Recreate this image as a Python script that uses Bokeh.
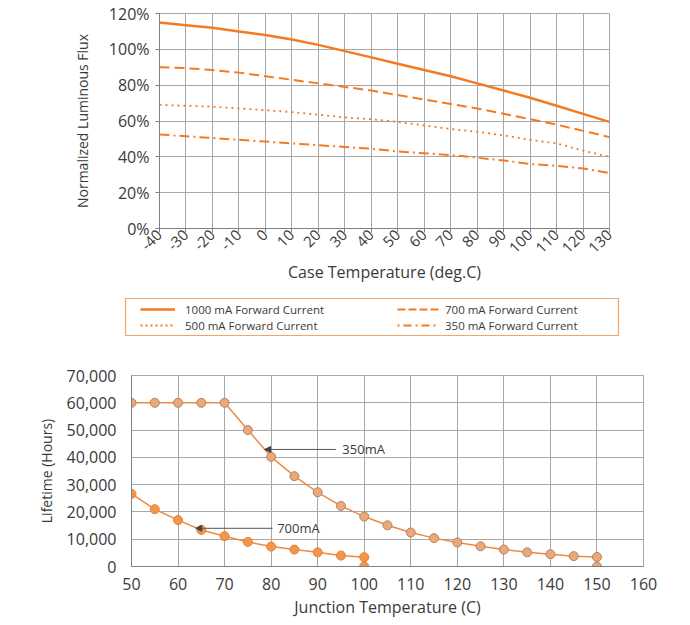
import math
from bokeh.plotting import figure
from bokeh.models import (Range1d, FixedTicker, PrintfTickFormatter, NumeralTickFormatter,
                          Legend, LegendItem, Label, Arrow, NormalHead)
from bokeh.layouts import column
from bokeh.embed import file_html
from bokeh.resources import INLINE

# ---------------- data ----------------
case_temp = [-40, -30, -20, -10, 0, 10, 20, 30, 40, 50, 60, 70, 80, 90, 100, 110, 120, 130]
flux_1000 = [115, 113.5, 112, 110, 108, 105.5, 102.5, 99, 95.5, 92, 88.5, 85, 81, 77, 73, 68.5, 64, 59.5]
flux_700 = [90, 89.5, 88.5, 87, 85, 83, 81, 79, 77, 74.5, 72, 69.5, 67, 64, 61, 58, 54.5, 51]
flux_500 = [69, 68.5, 68, 67, 66, 65, 63.5, 62, 61, 59.5, 57.5, 55.5, 54, 52, 49.5, 47.5, 43.5, 40]
flux_350 = [52.5, 51.5, 50.5, 49.5, 48.5, 47.5, 46.5, 45.5, 44.5, 43, 42, 41, 39.5, 38, 36, 35, 33.5, 31]
flux_ticks = [0, 20, 40, 60, 80, 100, 120]
legend_labels = ["1000 mA Forward Current", "500 mA Forward Current",
                 "700 mA Forward Current", "350 mA Forward Current"]

junction_temp_350 = [50, 55, 60, 65, 70, 75, 80, 85, 90, 95, 100, 105, 110, 115, 120, 125, 130, 135, 140, 145, 150, 150]
lifetime_350 = [60000, 60000, 60000, 60000, 60000, 50000, 40200, 33100, 27200, 22200, 18300, 15100, 12450, 10400,
                8800, 7400, 6200, 5200, 4500, 3800, 3500, 0]
junction_temp_700 = [50, 55, 60, 65, 70, 75, 80, 85, 90, 95, 100, 100]
lifetime_700 = [26600, 21000, 17000, 13400, 11100, 9000, 7300, 6200, 5200, 4000, 3400, 0]
junction_ticks = [50, 60, 70, 80, 90, 100, 110, 120, 130, 140, 150, 160]
lifetime_ticks = [0, 10000, 20000, 30000, 40000, 50000, 60000, 70000]
annot_350 = "350mA"
annot_700 = "700mA"

FONT = "Open Sans"
TXT = "#3a3a3a"
GRID = "#a8a8a8"
ORANGE = "#f47b20"
NAN = float("nan")

# ---------------- top chart ----------------
p1 = figure(frame_width=450, frame_height=215, x_range=Range1d(-40, 130), y_range=Range1d(0, 120),
            min_border_left=159, min_border_right=57, min_border_top=13, min_border_bottom=70,
            output_backend="svg", toolbar_location=None)
p1.frame_align = False
p1.outline_line_color = GRID
p1.xgrid.ticker = FixedTicker(ticks=case_temp)
p1.ygrid.ticker = FixedTicker(ticks=flux_ticks)
for g in (p1.xgrid, p1.ygrid):
    g.grid_line_color = GRID
    g.grid_line_width = 1

p1.xaxis.ticker = FixedTicker(ticks=case_temp)
p1.xaxis.formatter = PrintfTickFormatter(format="%d")
p1.yaxis.ticker = FixedTicker(ticks=flux_ticks)
p1.yaxis.formatter = PrintfTickFormatter(format="%d%%")
p1.xaxis.major_label_orientation = math.pi / 4
p1.xaxis.axis_label = "Case Temperature (deg.C)"
p1.yaxis.axis_label = "Normalized Luminous Flux"
for ax in (p1.xaxis[0], p1.yaxis[0]):
    ax.minor_tick_line_color = None
    ax.major_tick_in = 0
    ax.major_tick_out = 4
    ax.axis_line_color = "#808080"
    ax.major_tick_line_color = "#808080"
    ax.major_label_text_font = FONT
    ax.major_label_text_font_size = "16px"
    ax.major_label_text_color = TXT
    ax.axis_label_text_font = FONT
    ax.axis_label_text_font_style = "normal"
    ax.axis_label_text_color = TXT
p1.xaxis.major_label_text_font_size = "15px"
p1.xaxis.axis_label_text_font_size = "16px"
p1.yaxis.axis_label_text_font_size = "14px"
p1.xaxis.major_label_standoff = 0
p1.xaxis.axis_label_standoff = 0
p1.yaxis.major_label_standoff = 6
p1.yaxis.axis_label_standoff = 14

p1.line(case_temp, flux_1000, line_color=ORANGE, line_width=2.5)
p1.line(case_temp, flux_700, line_color=ORANGE, line_width=2, line_dash="10 5")
p1.line(case_temp, flux_500, line_color=ORANGE, line_width=1.8, line_dash="2 4")
p1.line(case_temp, flux_350, line_color=ORANGE, line_width=2, line_dash="10 4 2 4")

# ---------------- legend box ----------------
pl = figure(frame_width=493, frame_height=37, x_range=Range1d(0, 1), y_range=Range1d(0, 1),
            min_border_left=125, min_border_right=56, min_border_top=0, min_border_bottom=10,
            x_axis_location=None, y_axis_location=None,
            output_backend="svg", toolbar_location=None)
pl.frame_align = False
pl.grid.visible = False
pl.outline_line_color = "#f3a467"
pl.outline_line_width = 1.2
r1000 = pl.line(x=[NAN], y=[NAN], line_color=ORANGE, line_width=2.5)
r700 = pl.line(x=[NAN], y=[NAN], line_color=ORANGE, line_width=2, line_dash="8 3")
r500 = pl.line(x=[NAN], y=[NAN], line_color=ORANGE, line_width=1.8, line_dash="2 3")
r350 = pl.line(x=[NAN], y=[NAN], line_color=ORANGE, line_width=2, line_dash="2 4 8 4")


def make_legend(label, renderer, loc, gw, standoff):
    return Legend(items=[LegendItem(label=label, renderers=[renderer])], location=loc,
                  orientation="vertical", padding=0, margin=0, spacing=0,
                  glyph_height=16, label_height=16, glyph_width=gw, label_standoff=standoff,
                  border_line_color=None, background_fill_alpha=0,
                  label_text_font=FONT, label_text_font_size="11.5px", label_text_color=TXT)


pl.add_layout(make_legend(legend_labels[0], r1000, (15, 18), 35, 10))
pl.add_layout(make_legend(legend_labels[1], r500, (15, 2), 35, 10))
pl.add_layout(make_legend(legend_labels[2], r700, (272, 18), 42, 6))
pl.add_layout(make_legend(legend_labels[3], r350, (272, 2), 42, 6))

# ---------------- bottom chart ----------------
p2 = figure(frame_width=512, frame_height=191, x_range=Range1d(50, 160), y_range=Range1d(0, 70000),
            min_border_left=131, min_border_right=31, min_border_top=30, min_border_bottom=51,
            output_backend="svg", toolbar_location=None)
p2.frame_align = False
p2.outline_line_color = GRID
p2.xgrid.ticker = FixedTicker(ticks=junction_ticks)
p2.ygrid.ticker = FixedTicker(ticks=lifetime_ticks)
for g in (p2.xgrid, p2.ygrid):
    g.grid_line_color = GRID
    g.grid_line_width = 1
p2.xaxis.ticker = FixedTicker(ticks=junction_ticks)
p2.yaxis.ticker = FixedTicker(ticks=lifetime_ticks)
p2.yaxis.formatter = NumeralTickFormatter(format="0,0")
p2.xaxis.axis_label = "Junction Temperature (C)"
p2.yaxis.axis_label = "Lifetime (Hours)"
for ax in (p2.xaxis[0], p2.yaxis[0]):
    ax.minor_tick_line_color = None
    ax.major_tick_in = 0
    ax.major_tick_out = 0
    ax.axis_line_color = "#808080"
    ax.major_label_text_font = FONT
    ax.major_label_text_font_size = "16px"
    ax.major_label_text_color = TXT
    ax.axis_label_text_font = FONT
    ax.axis_label_text_font_style = "normal"
    ax.axis_label_text_color = TXT
p2.xaxis.axis_label_text_font_size = "16px"
p2.yaxis.axis_label_text_font_size = "14px"
p2.xaxis.major_label_standoff = 11
p2.xaxis.axis_label_standoff = 3
p2.yaxis.major_label_standoff = 15
p2.yaxis.axis_label_standoff = 8

p2.line(junction_temp_350, lifetime_350, line_color="#f08a40", line_width=1.5)
p2.scatter(junction_temp_350, lifetime_350, size=9, fill_color="#eba878", line_color="#b08468", line_width=1)
p2.line(junction_temp_700, lifetime_700, line_color="#f08a40", line_width=1.5)
p2.scatter(junction_temp_700, lifetime_700, size=9, fill_color="#f3964a", line_color="#e58038", line_width=1)

head = dict(size=6, fill_color="#444444", line_color="#444444")
p2.add_layout(Arrow(end=NormalHead(**head), x_start=93.9, y_start=42900, x_end=78.6, y_end=42900,
                    line_color="#555555", line_width=1))
p2.add_layout(Arrow(end=NormalHead(**head), x_start=80.3, y_start=14000, x_end=63.8, y_end=14000,
                    line_color="#555555", line_width=1))
p2.add_layout(Label(x=95.3, y=42900, text=annot_350, text_font=FONT, text_font_size="13px",
                    text_color=TXT, text_baseline="middle"))
p2.add_layout(Label(x=81.3, y=14000, text=annot_700, text_font=FONT, text_font_size="13px",
                    text_color=TXT, text_baseline="middle"))

layout = column(p1, pl, p2)
open("out.html", "w").write(file_html(layout, INLINE))
